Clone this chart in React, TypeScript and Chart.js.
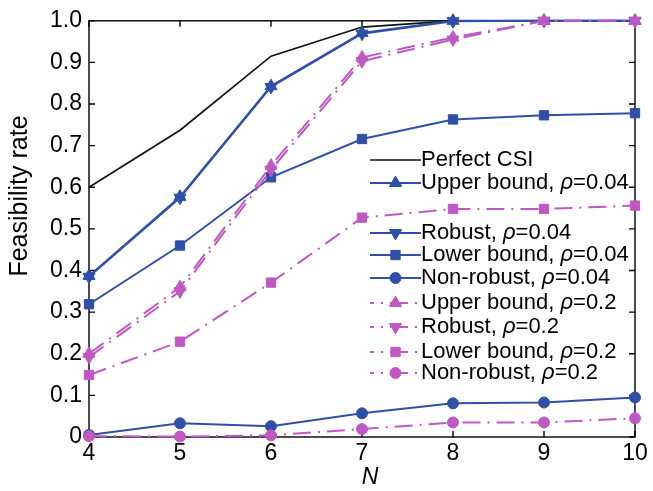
import { useEffect, useRef } from "react";
import { Chart, registerables } from "chart.js";
import { drawPoint } from "chart.js/helpers";

Chart.register(...registerables);

// Number of antennas N
const nValues = [4, 5, 6, 7, 8, 9, 10];

// Feasibility rate per scheme
const perfectCSI = [0.6, 0.737, 0.915, 0.985, 1.0, 1.0, 1.0];
const upperBound004 = [0.387, 0.577, 0.843, 0.971, 1.0, 1.0, 1.0];
const robust004 = [0.385, 0.575, 0.841, 0.969, 0.999, 1.0, 1.0];
const lowerBound004 = [0.319, 0.46, 0.624, 0.716, 0.763, 0.773, 0.778];
const nonRobust004 = [0.005, 0.033, 0.026, 0.057, 0.081, 0.083, 0.095];
const upperBound02 = [0.2, 0.36, 0.652, 0.912, 0.96, 1.0, 1.0];
const robust02 = [0.192, 0.35, 0.642, 0.903, 0.955, 1.0, 1.0];
const lowerBound02 = [0.149, 0.229, 0.371, 0.527, 0.548, 0.548, 0.556];
const nonRobust02 = [0.002, 0.001, 0.004, 0.019, 0.035, 0.035, 0.045];

const yTicks = [0, 0.1, 0.2, 0.3, 0.4, 0.5, 0.6, 0.7, 0.8, 0.9, 1.0];

const BLUE = "#2f4fa9";
const PINK = "#c058c4";
const DASH_DOT = [18, 7, 2, 7];
const FONT = "'Liberation Sans', Arial, Helvetica, sans-serif";

type SeriesStyle = {
  color: string;
  dash: number[];
  width: number;
  pointStyle: any;
  rotation?: number;
  radius: number;
  order: number;
};

function makeSeries(label: string, values: number[], s: SeriesStyle) {
  return {
    label,
    data: nValues.map((n, i) => ({ x: n, y: values[i] })),
    borderColor: s.color,
    backgroundColor: s.color,
    borderWidth: s.width,
    borderDash: s.dash,
    pointStyle: s.pointStyle,
    pointRotation: s.rotation ?? 0,
    pointRadius: s.radius,
    pointBorderWidth: 1,
    pointBorderColor: s.color,
    pointBackgroundColor: s.color,
    tension: 0,
    clip: false as any,
    order: s.order,
  };
}

// Vertical centres of the legend rows
const LEGEND_ROWS = [160, 183, 233, 255, 278, 303, 327, 352, 373];
const LEGEND_LINE_X0 = 370;
const LEGEND_LINE_X1 = 421;
const LEGEND_TEXT_X = 421;

const framePlugin = {
  id: "frame",
  beforeDatasetsDraw(chart: any) {
    const { ctx, chartArea: a, scales } = chart;
    ctx.save();
    ctx.strokeStyle = "#000";
    ctx.lineWidth = 1.4;
    ctx.strokeRect(a.left, a.top, a.right - a.left, a.bottom - a.top);
    const tl = 6;
    ctx.beginPath();
    for (const v of nValues) {
      const x = scales.x.getPixelForValue(v);
      ctx.moveTo(x, a.bottom);
      ctx.lineTo(x, a.bottom - tl);
      ctx.moveTo(x, a.top);
      ctx.lineTo(x, a.top + tl);
    }
    for (const v of yTicks) {
      const y = scales.y.getPixelForValue(v);
      ctx.moveTo(a.left, y);
      ctx.lineTo(a.left + tl, y);
      ctx.moveTo(a.right, y);
      ctx.lineTo(a.right - tl, y);
    }
    ctx.stroke();
    ctx.restore();
  },
  afterDatasetsDraw(chart: any) {
    const { ctx } = chart;
    ctx.save();
    chart.data.datasets.forEach((ds: any, i: number) => {
      const y = LEGEND_ROWS[i];
      ctx.strokeStyle = ds.borderColor;
      ctx.lineWidth = ds.borderWidth;
      ctx.setLineDash(ds.borderDash || []);
      ctx.lineDashOffset = ds.borderDash && ds.borderDash.length ? 14 : 0;
      ctx.beginPath();
      ctx.moveTo(LEGEND_LINE_X0, y);
      ctx.lineTo(LEGEND_LINE_X1, y);
      ctx.stroke();
      ctx.setLineDash([]);
      if (ds.pointRadius > 0) {
        ctx.fillStyle = ds.pointBackgroundColor;
        ctx.strokeStyle = ds.pointBorderColor;
        ctx.lineWidth = 1;
        drawPoint(
          ctx,
          {
            pointStyle: ds.pointStyle,
            rotation: ds.pointRotation,
            radius: ds.pointRadius,
            borderWidth: 1,
          } as any,
          (LEGEND_LINE_X0 + LEGEND_LINE_X1) / 2,
          y
        );
      }
      // label text, with the Greek rho set in italics
      ctx.fillStyle = "#000";
      ctx.textBaseline = "middle";
      ctx.textAlign = "left";
      const parts = String(ds.label).split("ρ");
      let x = LEGEND_TEXT_X;
      parts.forEach((p: string, k: number) => {
        if (k > 0) {
          ctx.font = `italic 22px ${FONT}`;
          ctx.fillText("ρ", x, y);
          x += ctx.measureText("ρ").width;
        }
        ctx.font = `22px ${FONT}`;
        ctx.fillText(p, x, y);
        x += ctx.measureText(p).width;
      });
    });
    ctx.restore();
  },
  afterDraw(chart: any) {
    const { ctx, chartArea: a } = chart;
    ctx.save();
    ctx.fillStyle = "#000";
    ctx.textAlign = "center";
    ctx.textBaseline = "middle";
    ctx.font = `italic 23px ${FONT}`;
    ctx.fillText("N", (a.left + a.right) / 2 + 8, 478);
    ctx.translate(20, 196);
    ctx.rotate(-Math.PI / 2);
    ctx.font = `25px ${FONT}`;
    ctx.fillText("Feasibility rate", 0, 0);
    ctx.restore();
  },
};

export default function App() {
  const ref = useRef<HTMLCanvasElement>(null);

  useEffect(() => {
    const canvas = ref.current;
    if (!canvas) return;
    const solidBlue = (pointStyle: any, rotation = 0, radius = 6.5) =>
      ({ color: BLUE, dash: [], width: 2, pointStyle, rotation, radius, order: 1 });
    const dashPink = (pointStyle: any, rotation = 0, radius = 6.5) =>
      ({ color: PINK, dash: DASH_DOT, width: 2, pointStyle, rotation, radius, order: 0 });

    const chart = new Chart(canvas, {
      type: "line",
      data: {
        datasets: [
          makeSeries("Perfect CSI", perfectCSI, {
            color: "#111", dash: [], width: 1.7, pointStyle: false, radius: 0, order: 2,
          }),
          makeSeries("Upper bound, ρ=0.04", upperBound004, solidBlue("triangle", 0, 7)),
          makeSeries("Robust, ρ=0.04", robust004, solidBlue("triangle", 180, 7)),
          makeSeries("Lower bound, ρ=0.04", lowerBound004, solidBlue("rect", 0, 6.6)),
          makeSeries("Non-robust, ρ=0.04", nonRobust004, solidBlue("circle", 0, 5.5)),
          makeSeries("Upper bound, ρ=0.2", upperBound02, dashPink("triangle", 0, 7)),
          makeSeries("Robust, ρ=0.2", robust02, dashPink("triangle", 180, 7)),
          makeSeries("Lower bound, ρ=0.2", lowerBound02, dashPink("rect", 0, 6.6)),
          makeSeries("Non-robust, ρ=0.2", nonRobust02, dashPink("circle", 0, 5.5)),
        ] as any,
      },
      options: {
        animation: false,
        responsive: false,
        events: [],
        layout: { padding: { left: 0, top: 14, right: 18, bottom: 0 } },
        plugins: { legend: { display: false }, tooltip: { enabled: false } },
        scales: {
          x: {
            type: "linear",
            min: 4,
            max: 10,
            grid: { display: false, drawTicks: false },
            border: { display: false },
            afterBuildTicks: (s: any) => {
              s.ticks = nValues.map((v) => ({ value: v }));
            },
            afterFit: (s: any) => {
              s.height = 54;
            },
            ticks: {
              color: "#000",
              padding: 3,
              maxRotation: 0,
              font: { family: FONT, size: 23 },
              callback: (v: any) => String(v),
            },
          },
          y: {
            type: "linear",
            min: 0,
            max: 1,
            grid: { display: false, drawTicks: false },
            border: { display: false },
            afterBuildTicks: (s: any) => {
              s.ticks = yTicks.map((v) => ({ value: v }));
            },
            afterFit: (s: any) => {
              s.width = 89;
            },
            ticks: {
              color: "#000",
              padding: 7,
              font: { family: FONT, size: 23 },
              callback: (v: any) => (Number(v) === 0 ? "0" : Number(v).toFixed(1)),
            },
          },
        },
      },
      plugins: [framePlugin],
    });
    return () => chart.destroy();
  }, []);

  return (
    <div style={{ position: "fixed", left: 0, top: 0, width: 653, height: 491, background: "#fff" }}>
      <canvas ref={ref} width={653} height={491} style={{ width: 653, height: 491, display: "block" }} />
    </div>
  );
}
